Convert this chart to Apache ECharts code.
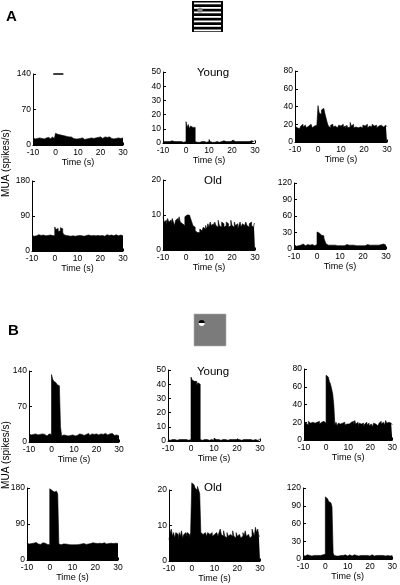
<!DOCTYPE html>
<html><head><meta charset="utf-8">
<script src="https://cdn.jsdelivr.net/npm/echarts@6/dist/echarts.min.js"></script>
<style>html,body{margin:0;padding:0;background:#fff}#c{width:400px;height:585px}</style>
</head><body><div id="c"></div>
<script>
// ---- data (0.5 s bins from -10 s to 30 s, 80 bins per panel) ----
const binStart = -10, binWidth = 0.5, timeEnd = 30;
const xTicks = [-10, 0, 10, 20, 30];
const stimBar = [-1, 3.5];

const gratingYoung1 = [14,12,15,13,11,14,12,13,15,12,13,14,12,15,13,12,14,16,13,15,
 23,21,22,20,21,19,20,18, 19,17,18,16,15,16,14,13,14,12,13,12,
 11,13,12,14,12,11,13,12,14,13,15,14,16,13,15,14,17,15,14,16,15,13,14,16,17,15,14,16,15,13,14,12,15,13,16,14,12,13,15,14];
const gratingYoung2 = [1,1,1.5,1,0.5,1,1,1.5,1,1,0.5,1,1,1,1.5,1,1,0.5,1,1,
 15,11,13,10,12,11,12,11, 1,0.5,1,0.5,1,1,0.5,1,1,0.5,1,1,
 2.5,1,0.5,1,0.5,1,1,1,0.5,1,1,1,1.5,1,1,1,1,1.5,1,1,2,1,1,1.5,1,1,1,1.5,1,1,1,1.5,1,1,1,1,1.5,1,1,2];
const gratingYoung3 = [18,16,17,15,16,18,20,17,19,21,16,18,17,20,22,16,18,17,19,17,
 41,33,31,36,38,37,32,27, 22,18,16,19,20,17,18,19,16,15,19,18,
 16,20,17,18,15,19,16,17,22,18,20,16,17,19,16,14,17,18,16,19,18,17,20,16,18,19,17,20,18,17,19,16,18,17,19,18,17,16,19,17];
const gratingOld1 = [40,38,41,39,40,42,38,40,39,41,40,39,42,40,38,41,39,40,38,39,
 62,55,58,50,52,60,57,48, 42,40,38,39,40,38,41,39,40,38,40,39,
 38,40,41,39,40,38,42,40,39,41,40,39,38,40,41,39,42,40,38,39,41,40,39,38,40,42,39,40,38,41,40,39,41,42,40,39,38,41,40,39];
const gratingOld2 = [9.5,8,8.5,7,9,8,8.5,7.5,9,8,7,8.5,9,8,9.5,8,7.5,8,7,9.5,
 10,10.5,10,9.5,9,8,7,6.5, 5.5,5,5.5,5,6,5.5,6,6.5,6,7,6,7.5,
 6.5,8,7,7.5,6.5,8,7,6.5,8.5,7,6.5,8,7.5,6.5,7,8,7.5,6.5,7,8.5,7,6.5,8,7,7.5,6,7,8,6.5,7.5,7,6.5,8,7,6.5,7.5,8,7,6.5,7.5];
const gratingOld3 = [8,5,7,6,8,7,6,9,7,6,7,8,6,7,6,8,7,6,7,8,
 31,29,26,25,26,24,20,14, 9,7,6,7,6,7,6,7,7,6,7,6,
 7,6,7,6,7,8,6,7,6,7,6,7,7,6,8,6,7,6,7,6,7,6,7,8,6,7,6,7,6,7,8,7,6,7,6,8,7,9,8,7];

const spotYoung1 = [16,14,17,15,13,16,15,14,12,15,14,16,13,15,14,12,15,16,14,15,
 133,124,120,117,115,113,111,109, 30,12,14,15,13,14,12,14,13,12,14,13,
 12,15,13,14,16,13,15,14,13,16,15,14,17,15,13,16,18,15,14,16,17,14,15,16,13,15,14,17,15,14,13,16,15,17,14,13,15,14,13,12];
const spotYoung2 = [1,0.5,1,1,0.5,1,1,0.5,1,1,0.5,1,1,1,0.5,1,1,0.5,1,1,
 45,43,42,41,42,39,41,40, 1,0.5,1,1,0.5,1,1,0.5,1,1,1,0.5,
 2,1,0.5,1,1,0.5,1,1,0.5,1,1,0.5,1,1,0.5,1,1,1,0.5,1,2,1,1,0.5,1,1,0.5,1,1,1,0.5,1,1,0.5,1,1,1,0.5,1,1];
const spotYoung3 = [21,19,20,17,21,19,18,20,21,19,17,20,19,21,18,20,19,21,20,19,
 73,71,70,66,63,58,52,40, 17,20,16,19,18,17,19,18,20,17,18,19,
 18,17,20,19,21,17,22,18,20,16,19,18,17,19,15,18,20,17,19,16,18,17,15,19,18,20,16,17,19,21,18,20,19,17,22,19,20,18,19,17];
const spotOld1 = [42,40,43,41,39,42,40,44,41,40,42,39,41,43,40,42,41,39,40,38,
 178,174,172,170,168,172,170,165, 40,38,41,40,39,40,38,39,40,38,37,38,
 37,38,36,38,37,39,38,40,39,41,40,39,41,40,42,41,40,43,41,42,40,41,43,42,40,41,42,43,41,40,42,41,43,42,44,41,40,42,43,41];
const spotOld2 = [6,8,9,7,8,6.5,8,7.5,6,8,7,8.5,6.5,7.5,8,7,8,7.5,6.5,8,
 22,21.5,21,20.5,20,21,20,19, 8,7.5,7,8,7.5,7,8,7.5,7,8,7,7.5,
 7,8,7.5,7,8,9,7.5,7,8.5,7,6.5,8,7,7.5,8,7,8.5,7,6.5,8,7,7.5,8,6.5,7,8,7,8.5,7,7.5,8,6.5,7,9,8,7,9.5,8,9,7];
const spotOld3 = [6,5,6,7,5,6,6,5,7,6,5,6,7,6,5,6,6,7,6,8,
 105,102,100,97,95,92,88,10, 6,5,6,5,7,6,5,6,6,7,6,5,
 6,7,6,5,6,7,6,6,7,5,6,6,7,6,5,6,7,6,6,5,6,7,6,5,6,6,7,6,5,6,7,6,6,5,7,6,6,5,6,6];

const yMax   = [140, 50, 80, 180, 20, 120, 140, 50, 80, 180, 20, 120];
const yStep  = [70, 10, 20, 90, 10, 30, 70, 10, 20, 90, 10, 30];
const panelValues = [gratingYoung1, gratingYoung2, gratingYoung3, gratingOld1, gratingOld2, gratingOld3,
                     spotYoung1, spotYoung2, spotYoung3, spotOld1, spotOld2, spotOld3];

// ---- layout ----
const layout = [
  {left:33, top:74, width:90, height:71},
  {left:163, top:72, width:92, height:71},
  {left:295, top:71, width:92, height:71},
  {left:32, top:181, width:91, height:70},
  {left:163, top:180, width:92, height:70},
  {left:294, top:183, width:92, height:66},
  {left:29, top:371, width:90, height:71},
  {left:168, top:370, width:92, height:71},
  {left:304, top:369, width:91, height:71},
  {left:27, top:488, width:91, height:72},
  {left:169, top:490, width:91, height:71},
  {left:303, top:488, width:91, height:71}
];
const FONT = '"Liberation Sans", Arial, Helvetica, sans-serif';
const black = '#000';

const grids = [], xAxes = [], yAxes = [], series = [];
layout.forEach((g, i) => {
  grids.push({left:g.left, top:g.top, width:g.width, height:g.height, containLabel:false});
  xAxes.push({
    type:'value', gridIndex:i, min:xTicks[0], max:xTicks[xTicks.length-1], interval:10,
    axisLine:{show:true, onZero:false, lineStyle:{color:black, width:1}},
    axisTick:{show:true, inside:true, length:2.5, lineStyle:{color:black, width:1}},
    axisLabel:{color:black, fontSize:8.5, margin:3, fontFamily:FONT},
    splitLine:{show:false},
    name:'Time (s)', nameLocation:'middle', nameGap:12,
    nameTextStyle:{color:black, fontSize:9, fontFamily:FONT}
  });
  yAxes.push({
    type:'value', gridIndex:i, min:0, max:yMax[i], interval:yStep[i],
    axisLine:{show:true, onZero:false, lineStyle:{color:black, width:1}},
    axisTick:{show:true, inside:true, length:3, lineStyle:{color:black, width:1}},
    axisLabel:{color:black, fontSize:8.5, margin:2, fontFamily:FONT},
    splitLine:{show:false}
  });
  const vals = panelValues[i];
  const data = vals.map((v, k) => [binStart + k*binWidth, v]);
  data.push([timeEnd, vals[vals.length-1]]);
  series.push({
    type:'line', xAxisIndex:i, yAxisIndex:i, data:data, step:'end', symbol:'none',
    clip:false, silent:true,
    lineStyle:{color:black, width:0.6}, areaStyle:{color:black, opacity:1}
  });
});
// stimulus bar in first panel
series.push({
  type:'line', xAxisIndex:0, yAxisIndex:0, symbol:'none', clip:false, silent:true,
  data:[[stimBar[0], yMax[0]], [stimBar[1], yMax[0]]],
  lineStyle:{color:black, width:1.6}
});

// ---- decorations ----
const graphic = [];
graphic.push({type:'text', left:6, top:9, style:{text:'A', font:'bold 15px '+FONT, fill:black}});
graphic.push({type:'text', left:8, top:323, style:{text:'B', font:'bold 15px '+FONT, fill:black}});
// grating icon
graphic.push({type:'rect', shape:{x:192, y:1, width:31, height:31}, style:{fill:black}});
[2.5, 7, 11.5, 16, 20.5, 25, 29.5].forEach(yy => {
  graphic.push({type:'rect', shape:{x:194, y:yy, width:27, height:1.8}, style:{fill:'#fff'}});
});
graphic.push({type:'circle', shape:{cx:200, cy:10, r:2.6}, style:{fill:'#808080'}});
// spot icon
graphic.push({type:'rect', shape:{x:194, y:314, width:32, height:32}, style:{fill:'#7b7b7b', stroke:'#b0b0b0', lineWidth:0.6}});
graphic.push({type:'sector', shape:{cx:201.7, cy:323, r:3, startAngle:Math.PI, endAngle:2*Math.PI}, style:{fill:black}});
graphic.push({type:'sector', shape:{cx:201.7, cy:323, r:3, startAngle:0, endAngle:Math.PI}, style:{fill:'#fff'}});
// panel titles
[['Young',213,73],['Old',213,181],['Young',213,372],['Old',213,488]].forEach(t => {
  graphic.push({type:'text', x:t[1], y:t[2], style:{text:t[0], font:'11.5px '+FONT, fill:black, textAlign:'center', textVerticalAlign:'middle'}});
});
// y-axis labels
[163, 455].forEach(cy => {
  graphic.push({type:'text', x:6, y:cy, rotation:Math.PI/2,
    style:{text:'MUA (spikes/s)', font:'10px '+FONT, fill:black, textAlign:'center', textVerticalAlign:'middle'}});
});

const chart = echarts.init(document.getElementById('c'), null, {renderer:'canvas'});
chart.setOption({
  animation:false, backgroundColor:'#fff',
  grid:grids, xAxis:xAxes, yAxis:yAxes, series:series, graphic:graphic
});
</script>
</body></html>
